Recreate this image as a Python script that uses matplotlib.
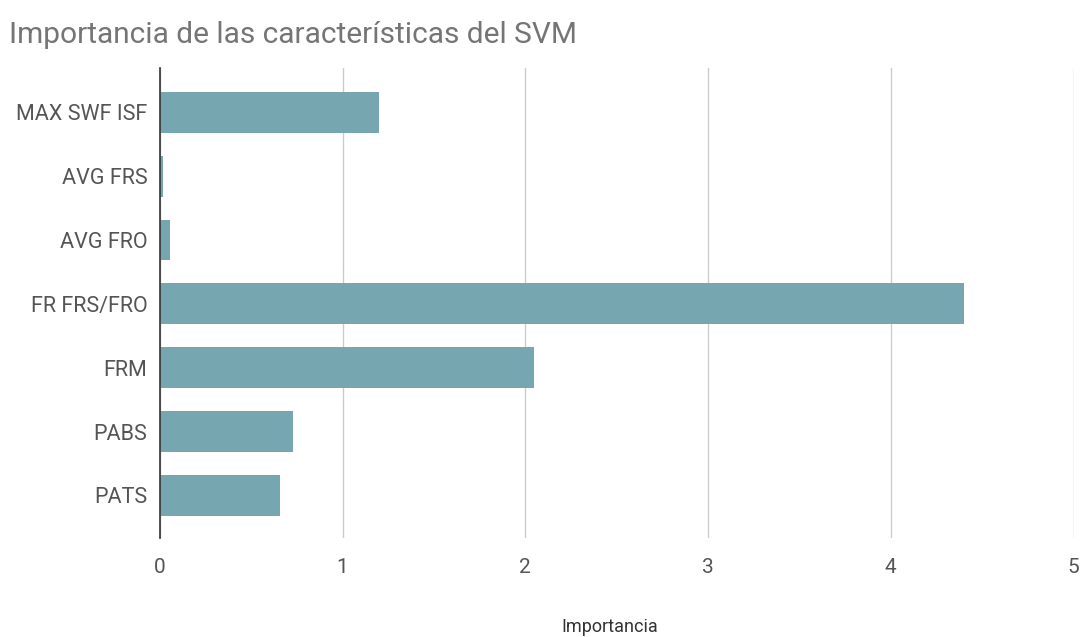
import matplotlib.pyplot as plt

plt.rcParams['font.family'] = ['Roboto', 'DejaVu Sans']

features = ['MAX SWF ISF', 'AVG FRS', 'AVG FRO', 'FR FRS/FRO', 'FRM', 'PABS', 'PATS']
importance = [1.20, 0.02, 0.055, 4.40, 2.05, 0.73, 0.66]
xticks = [0, 1, 2, 3, 4, 5]

fig = plt.figure(figsize=(10.8, 6.37), dpi=100)
ax = fig.add_axes([0.148, 0.155, 0.846, 0.738])

ax.barh(range(len(features)), importance, height=0.64, color='#76a7b1', zorder=3)
ax.set_ylim(len(features) - 0.33, -0.69)
ax.set_xlim(0, 5)
ax.set_yticks(range(len(features)))
ax.set_yticklabels(features, fontsize=15.5, color='#555555')
ax.set_xticks(xticks)
ax.set_xticklabels([str(t) for t in xticks], fontsize=15, color='#555555')
ax.tick_params(axis='y', length=0, pad=9)
ax.tick_params(axis='x', length=0, pad=14)
ax.grid(axis='x', color='#cccccc', linewidth=1, zorder=0)

for s in ['top', 'right', 'bottom']:
    ax.spines[s].set_visible(False)
ax.spines['left'].set_color('#333333')
ax.spines['left'].set_linewidth(1.2)
ax.spines['left'].set_zorder(4)

# x axis title sits near the bottom edge, placed in figure coords
fig.text(0.565, 0.016, 'Importancia', fontsize=13, color='#333333',
         ha='center', va='center')
fig.text(0.008, 0.945, 'Importancia de las características del SVM',
         fontsize=21.5, color='#757575', ha='left', va='center')

fig.savefig('out.png', dpi=100)
